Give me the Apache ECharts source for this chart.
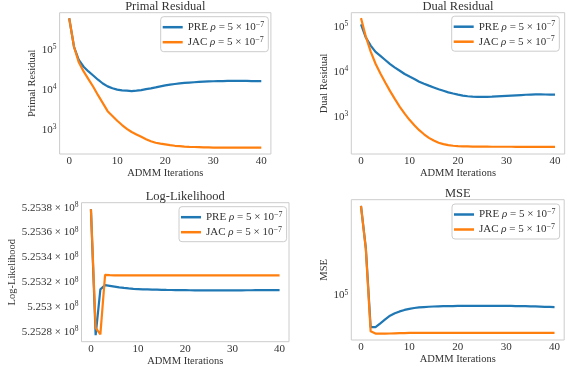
<!DOCTYPE html>
<html>
<head>
<meta charset="utf-8">
<script src="https://cdn.jsdelivr.net/npm/echarts@6/dist/echarts.min.js"></script>
<style>
  html, body { margin: 0; padding: 0; background: #fff; }
  #chart { width: 573px; height: 367px; }
</style>
</head>
<body>
<div id="chart"></div>
<script>
const iterations = [0, 1, 2, 3, 4, 5, 6, 7, 8, 9, 10, 11, 12, 13, 14, 15, 16, 17, 18, 19, 20,
  21, 22, 23, 24, 25, 26, 27, 28, 29, 30, 31, 32, 33, 34, 35, 36, 37, 38, 39, 40];

// Primal residual
const primalPre = [6.2e5, 1.2e5, 5.6e4, 3.8e4, 2.9e4, 2.3e4, 1.8e4, 1.45e4, 1.23e4, 1.1e4, 1.02e4,
  9.8e3, 9.6e3, 9.4e3, 9.6e3, 9.9e3, 1.05e4, 1.1e4, 1.16e4, 1.23e4, 1.3e4,
  1.36e4, 1.41e4, 1.46e4, 1.5e4, 1.53e4, 1.56e4, 1.59e4, 1.61e4, 1.63e4, 1.65e4,
  1.66e4, 1.67e4, 1.68e4, 1.68e4, 1.68e4, 1.68e4, 1.68e4, 1.67e4, 1.66e4, 1.66e4];
const primalJac = [6.2e5, 1.2e5, 4.9e4, 2.9e4, 1.86e4, 1.2e4, 7.4e3, 4.7e3, 2.95e3, 2.24e3, 1.7e3,
  1330, 1070, 891, 776, 676, 589, 525, 479, 457, 437,
  417, 403, 394, 385, 380, 376, 372, 367, 366, 363,
  363, 363, 363, 363, 363, 363, 363, 363, 363, 363];

// Dual residual
const dualPre = [1.12e5, 5.75e4, 3.8e4, 2.75e4, 2.24e4, 1.82e4, 1.48e4, 1.23e4, 1.05e4, 8.9e3, 7.8e3,
  6.9e3, 6.0e3, 5.4e3, 4.9e3, 4.47e3, 4.07e3, 3.76e3, 3.47e3, 3.27e3, 3.09e3,
  2.95e3, 2.85e3, 2.79e3, 2.75e3, 2.75e3, 2.76e3, 2.78e3, 2.83e3, 2.87e3, 2.91e3,
  2.95e3, 2.99e3, 3.03e3, 3.07e3, 3.1e3, 3.12e3, 3.12e3, 3.11e3, 3.1e3, 3.09e3];
const dualJac = [1.55e5, 6.0e4, 2.8e4, 1.5e4, 9.1e3, 5.75e3, 3.7e3, 2.45e3, 1.66e3, 1.17e3, 851,
  646, 501, 407, 339, 295, 263, 245, 234, 226, 221,
  219, 218, 217, 217, 216, 216, 215, 215, 215, 215,
  215, 214, 214, 214, 214, 214, 214, 214, 214, 214];

// Log-likelihood
const llPre = [525378700, 525277200, 525314200, 525317600, 525317000, 525316400, 525315800, 525315300,
  525314900, 525314600, 525314400, 525314200, 525314100, 525314000, 525313900, 525313800,
  525313700, 525313650, 525313600, 525313550, 525313500, 525313450, 525313400, 525313400,
  525313400, 525313400, 525313400, 525313400, 525313400, 525313400, 525313400, 525313400,
  525313400, 525313450, 525313450, 525313500, 525313500, 525313550, 525313550, 525313600, 525313600];
const llJac = [525378700, 525283200, 525277900, 525325800, 525325600, 525325500, 525325500, 525325500,
  525325500, 525325500, 525325500, 525325500, 525325500, 525325500, 525325500, 525325500,
  525325500, 525325500, 525325500, 525325500, 525325500, 525325500, 525325500, 525325500,
  525325500, 525325500, 525325500, 525325500, 525325500, 525325500, 525325500, 525325500,
  525325500, 525325500, 525325500, 525325500, 525325500, 525325500, 525325500, 525325500, 525325500];

// MSE
const msePre = [5.0e5, 2.35e5, 5.6e4, 5.6e4, 6.0e4, 6.45e4, 6.9e4, 7.2e4, 7.45e4, 7.65e4, 7.8e4,
  7.92e4, 8.0e4, 8.06e4, 8.1e4, 8.14e4, 8.17e4, 8.19e4, 8.2e4, 8.21e4, 8.22e4,
  8.23e4, 8.23e4, 8.24e4, 8.24e4, 8.24e4, 8.24e4, 8.24e4, 8.24e4, 8.23e4, 8.23e4,
  8.22e4, 8.21e4, 8.2e4, 8.19e4, 8.17e4, 8.15e4, 8.13e4, 8.1e4, 8.08e4, 8.05e4];
const mseJac = [5.0e5, 2.3e5, 5.2e4, 4.99e4, 4.98e4, 4.99e4, 5.0e4, 5.02e4, 5.03e4, 5.04e4, 5.05e4,
  5.05e4, 5.05e4, 5.05e4, 5.05e4, 5.05e4, 5.05e4, 5.05e4, 5.05e4, 5.05e4, 5.05e4,
  5.05e4, 5.05e4, 5.05e4, 5.05e4, 5.05e4, 5.05e4, 5.05e4, 5.05e4, 5.05e4, 5.05e4,
  5.05e4, 5.05e4, 5.05e4, 5.05e4, 5.05e4, 5.05e4, 5.05e4, 5.05e4, 5.05e4, 5.05e4];

const xTicks = [0, 10, 20, 30, 40];

const FONT = "'Liberation Serif', 'DejaVu Serif', serif";
const TEXT = '#333333';
const BLUE = '#1f77b4';
const ORANGE = '#ff7f0e';

const richNum = {
  b: { fontFamily: FONT, fontSize: 11, color: TEXT, lineHeight: 13 },
  s: { fontFamily: FONT, fontSize: 7.5, color: TEXT, verticalAlign: 'top', lineHeight: 9 }
};

// plot boxes, measured in px
const boxes = [
  { left: 59.6, top: 12.7, width: 211.3, height: 141.3 },
  { left: 351.3, top: 12.7, width: 213.4, height: 141.3 },
  { left: 81.5, top: 202.7, width: 207.5, height: 139 },
  { left: 351.3, top: 199.7, width: 212.9, height: 140.3 }
];
const titles = ['Primal Residual', 'Dual Residual', 'Log-Likelihood', 'MSE'];
const titleY = [0.5, 0.5, 190.5, 187];
const yNames = ['Primal Residual', 'Dual Residual', 'Log-Likelihood', 'MSE'];
const yNameGaps = [18.6, 18.3, 57, 17.3];
const legendPos = [[160.7, 16.7], [451.7, 16.2], [179, 206.7], [452, 204]];

function logLabel(v) {
  const e = Math.round(Math.log10(v));
  return '{b|10}{s|' + e + '}';
}
function llLabel(v) {
  if (Math.round(v) % 20000 !== 0) return '';
  const m = parseFloat((v / 1e8).toFixed(4)).toString();
  return '{b|' + m + ' × 10}{s|8}';
}

const xAxes = boxes.map((b, i) => ({
  type: 'value', gridIndex: i, min: -2, max: 42, interval: 2,
  axisLine: { show: false }, axisTick: { show: false }, splitLine: { show: false },
  axisLabel: {
    fontFamily: FONT, fontSize: 11, color: TEXT, margin: 2,
    formatter: v => (xTicks.indexOf(v) >= 0 ? String(v) : '')
  },
  name: 'ADMM Iterations', nameLocation: 'middle', nameGap: 11,
  nameTextStyle: { fontFamily: FONT, fontSize: 10.5, color: TEXT }
}));

const yBase = i => ({
  gridIndex: i,
  axisLine: { show: false }, axisTick: { show: false }, splitLine: { show: false },
  name: yNames[i], nameLocation: 'middle', nameGap: yNameGaps[i],
  nameTextStyle: { fontFamily: FONT, fontSize: 10.5, color: TEXT }
});

const yAxes = [
  Object.assign(yBase(0), {
    type: 'log', logBase: 10, min: Math.pow(10, 2.4), max: Math.pow(10, 5.93),
    axisLabel: { formatter: logLabel, rich: richNum, margin: 3, showMinLabel: false, showMaxLabel: false }
  }),
  Object.assign(yBase(1), {
    type: 'log', logBase: 10, min: Math.pow(10, 2.171), max: Math.pow(10, 5.311),
    axisLabel: { formatter: logLabel, rich: richNum, margin: 3, showMinLabel: false, showMaxLabel: false }
  }),
  Object.assign(yBase(2), {
    type: 'value', min: 525272000, max: 525384000, interval: 4000, scale: true,
    axisLabel: { formatter: llLabel, rich: richNum, margin: 3 }
  }),
  Object.assign(yBase(3), {
    type: 'log', logBase: 10, min: Math.pow(10, 4.648), max: Math.pow(10, 5.748),
    axisLabel: { formatter: logLabel, rich: richNum, margin: 3, showMinLabel: false, showMaxLabel: false }
  })
];

const pairs = arr => iterations.map((x, k) => [x, arr[k]]);
const seriesData = [[primalPre, primalJac], [dualPre, dualJac], [llPre, llJac], [msePre, mseJac]];
const series = [];
seriesData.forEach((pj, i) => {
  series.push({ name: 'PRE', type: 'line', xAxisIndex: i, yAxisIndex: i, data: pairs(pj[0]),
    symbol: 'none', lineStyle: { width: 2.2, color: BLUE }, itemStyle: { color: BLUE } });
  series.push({ name: 'JAC', type: 'line', xAxisIndex: i, yAxisIndex: i, data: pairs(pj[1]),
    symbol: 'none', lineStyle: { width: 2.2, color: ORANGE }, itemStyle: { color: ORANGE } });
});

const legendRich = {
  a: { fontFamily: FONT, fontSize: 11, color: TEXT, lineHeight: 13 },
  r: { fontFamily: FONT, fontSize: 11, fontStyle: 'italic', color: TEXT, lineHeight: 13 },
  s: { fontFamily: FONT, fontSize: 8, color: TEXT, verticalAlign: 'top', lineHeight: 9 }
};

const chart = echarts.init(document.getElementById('chart'), null, { renderer: 'canvas' });
chart.setOption({
  animation: false,
  backgroundColor: '#fff',
  grid: boxes.map(b => Object.assign({
    show: true, borderColor: '#cccccc', borderWidth: 1, backgroundColor: '#fff',
    containLabel: false, outerBoundsMode: 'none'
  }, b)),
  title: titles.map((t, i) => ({
    text: t, left: boxes[i].left + boxes[i].width / 2, top: titleY[i], textAlign: 'center', padding: 0,
    textStyle: { fontFamily: FONT, fontSize: 12.5, fontWeight: 'normal', color: TEXT }
  })),
  legend: legendPos.map(p => ({
    data: ['PRE', 'JAC'], orient: 'vertical', left: p[0], top: p[1],
    padding: [4, 4, 4, 2], itemGap: 3, itemWidth: 20, itemHeight: 2.5, icon: 'rect',
    backgroundColor: '#fff', borderColor: '#cccccc', borderWidth: 1, borderRadius: 3,
    selectedMode: false,
    formatter: n => '{a|' + n + ' }{r|ρ}{a| = 5 × 10}{s|−7}',
    textStyle: { rich: legendRich }
  })),
  xAxis: xAxes,
  yAxis: yAxes,
  series: series
});
</script>
</body>
</html>
